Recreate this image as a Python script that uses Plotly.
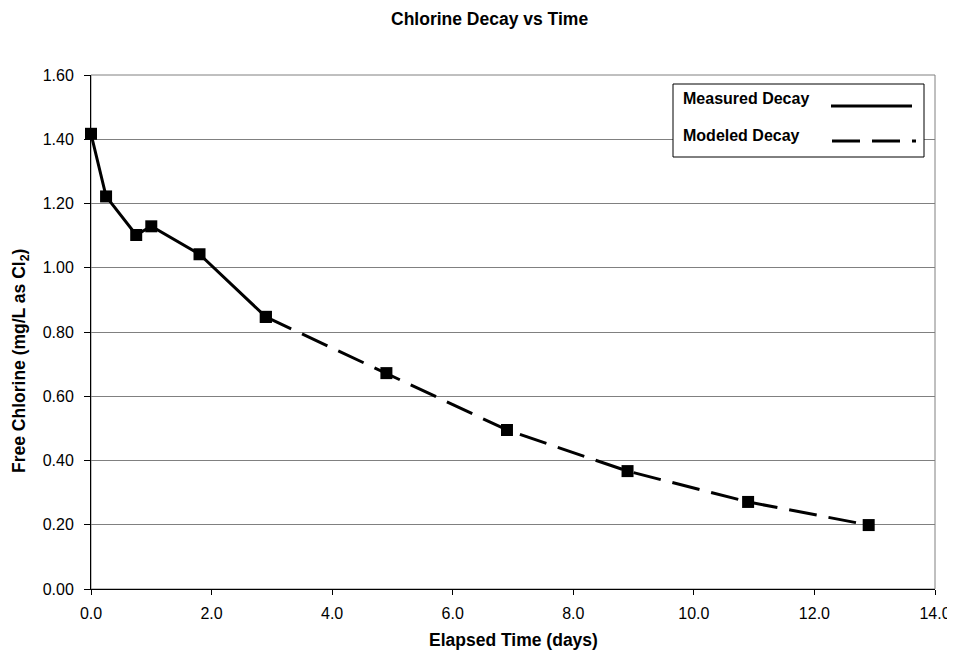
import plotly.graph_objects as go

# Data
measured_time = [0.0, 0.25, 0.75, 1.0, 1.8, 2.9]
measured_cl = [1.417, 1.222, 1.102, 1.129, 1.042, 0.847]
modeled_time = [2.9, 4.9, 6.9, 8.9, 10.9, 12.9]
modeled_cl = [0.847, 0.672, 0.495, 0.367, 0.271, 0.199]
y_ticks = [0.0, 0.2, 0.4, 0.6, 0.8, 1.0, 1.2, 1.4, 1.6]
x_ticks = [0, 2, 4, 6, 8, 10, 12, 14]

FONT = "Liberation Sans, Arial, sans-serif"
DASH = "28px,12px"

# page pixel -> paper coordinate helpers (plot area spans 91..935 x, 75..589 y on the page)
def px(x):
    return (x - 91) / 844


def py(y):
    return (589 - y) / 514


fig = go.Figure()
fig.add_trace(go.Scatter(
    x=modeled_time, y=modeled_cl, mode="lines+markers", name="Modeled Decay",
    line=dict(color="black", width=3, dash=DASH),
    marker=dict(symbol="square", size=12, color="black"), cliponaxis=False,
    showlegend=False))
fig.add_trace(go.Scatter(
    x=measured_time, y=measured_cl, mode="lines+markers", name="Measured Decay",
    line=dict(color="black", width=3),
    marker=dict(symbol="square", size=12, color="black"), cliponaxis=False,
    showlegend=False))

shapes = [
    dict(type="rect", xref="paper", yref="paper", x0=0, x1=1, y0=0, y1=1,
         line=dict(color="#808080", width=1), layer="below"),
    dict(type="rect", xref="paper", yref="paper", x0=px(673), x1=px(924), y0=py(157), y1=py(84),
         line=dict(color="black", width=1), fillcolor="white", layer="above"),
    dict(type="line", xref="paper", yref="paper", x0=px(831), x1=px(912), y0=py(106), y1=py(106),
         line=dict(color="black", width=3)),
    dict(type="line", xref="paper", yref="paper", x0=px(832), x1=px(916), y0=py(141), y1=py(141),
         line=dict(color="black", width=3, dash=DASH)),
]

annotations = [
    dict(text="<b>Measured Decay</b>", xref="paper", yref="paper", x=px(681), y=py(99),
         xanchor="left", yanchor="middle", showarrow=False,
         font=dict(family=FONT, size=16, color="black")),
    dict(text="<b>Modeled Decay</b>", xref="paper", yref="paper", x=px(681), y=py(135),
         xanchor="left", yanchor="middle", showarrow=False,
         font=dict(family=FONT, size=16, color="black")),
    dict(text="<b>Chlorine Decay vs Time</b>", xref="paper", yref="paper", x=px(489), y=py(8),
         xanchor="center", yanchor="top", showarrow=False, borderpad=0,
         font=dict(family=FONT, size=17.5, color="black")),
    dict(text="<b>Elapsed Time (days)</b>", xref="paper", yref="paper", x=px(513), y=py(640),
         xanchor="center", yanchor="middle", showarrow=False,
         font=dict(family=FONT, size=17.5, color="black")),
    dict(text="<b>Free Chlorine (mg/L as Cl<sub>2</sub>)</b>", xref="paper", yref="paper",
         x=px(20), y=py(361), xanchor="center", yanchor="middle", textangle=-90,
         showarrow=False, font=dict(family=FONT, size=17.5, color="black")),
]

fig.update_layout(
    width=955, height=656,
    paper_bgcolor="white", plot_bgcolor="white",
    margin=dict(l=83, r=28, t=67, b=75, autoexpand=False),
    font=dict(family=FONT, size=16, color="black"),
    shapes=shapes, annotations=annotations, showlegend=False,
    xaxis=dict(range=[0, 14], tickvals=x_ticks, tickformat=".1f",
               showgrid=False, zeroline=False, automargin=False,
               showline=True, linecolor="black", linewidth=1,
               ticks="outside", ticklen=5, tickcolor="black", ticklabelstandoff=5),
    yaxis=dict(range=[0, 1.6], tickvals=y_ticks, tickformat=".2f",
               showgrid=True, gridcolor="#808080", gridwidth=1, zeroline=False,
               automargin=False,
               showline=True, linecolor="black", linewidth=1,
               ticks="outside", ticklen=6, tickcolor="black", ticklabelstandoff=7),
)

fig.write_html("out.html")
